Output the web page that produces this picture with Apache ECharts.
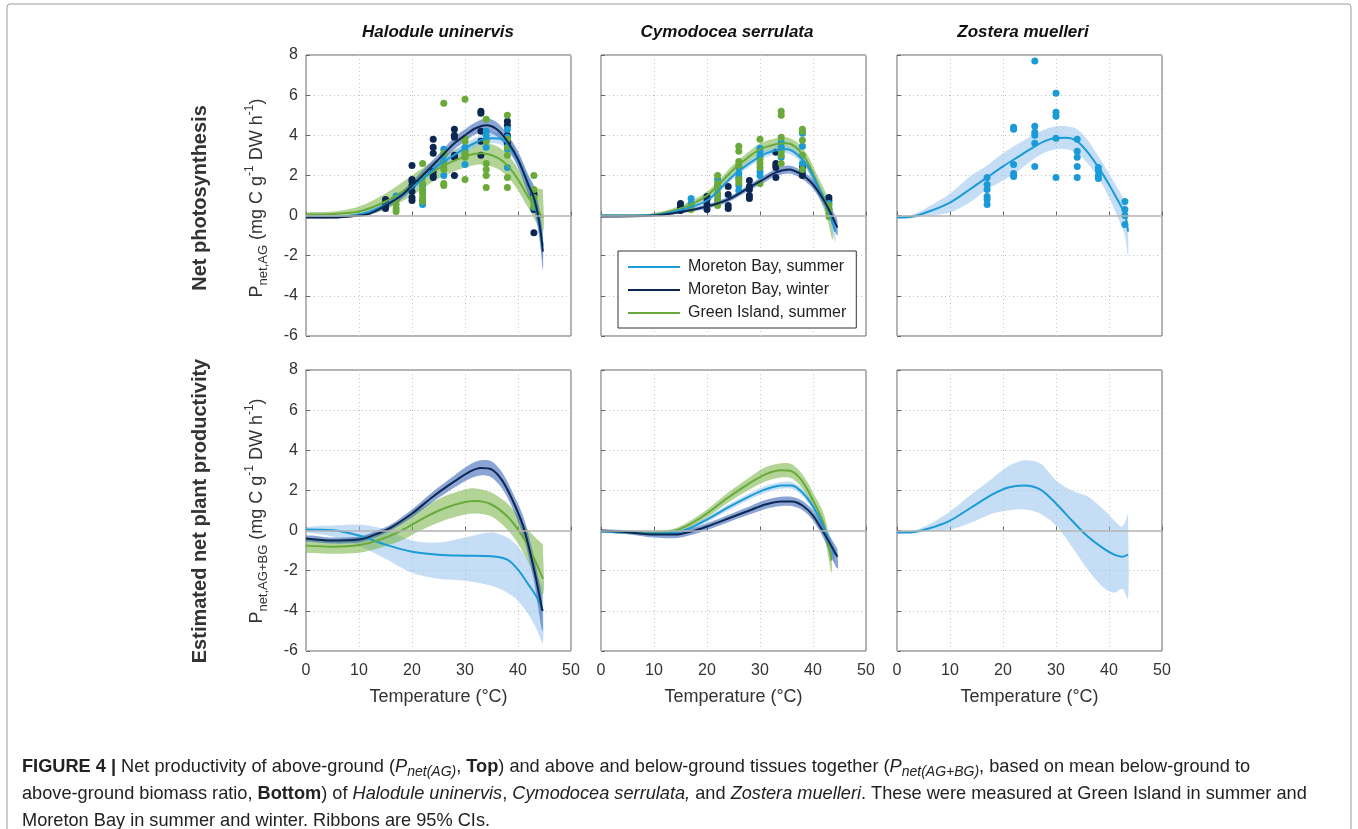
<!DOCTYPE html>
<html>
<head>
<meta charset="utf-8">
<script src="https://cdn.jsdelivr.net/npm/echarts@6/dist/echarts.min.js"></script>
<style>
  html, body { margin: 0; padding: 0; background: #fff; }
  #main { width: 1358px; height: 829px; }
</style>
</head>
<body>
<div id="main"></div>
<script>
// ---- Halodule uninervis, above-ground ----
var hTopT_lb = [0, 5, 10, 15, 20, 25, 30, 33, 35, 37, 39, 41, 43, 44.7];
var hTopLb   = [-0.05, -0.05, 0.05, 0.55, 1.4, 2.5, 3.35, 3.75, 3.85, 3.8, 3.2, 2.2, 0.8, -1.5];
var hTopLbLo = [-0.1, -0.1, -0.02, 0.4, 1.2, 2.3, 3.1, 3.5, 3.6, 3.5, 2.9, 1.9, 0.4, -2.2];
var hTopLbHi = [0.0, 0.0, 0.12, 0.7, 1.6, 2.7, 3.6, 4.0, 4.1, 4.1, 3.5, 2.5, 1.2, -0.8];

var hTopT_nv = [0, 5, 10, 12, 15, 18, 20, 22, 25, 28, 30, 32, 34, 36, 38, 40, 42, 43, 44, 44.7];
var hTopNv   = [-0.1, -0.1, 0.0, 0.1, 0.5, 1.0, 1.5, 2.0, 2.8, 3.6, 4.0, 4.35, 4.5, 4.3, 3.7, 2.8, 1.5, 0.9, -0.3, -1.8];
var hTopNvLo = [-0.15, -0.15, -0.05, 0.03, 0.35, 0.8, 1.3, 1.75, 2.55, 3.3, 3.7, 4.05, 4.15, 3.95, 3.35, 2.4, 1.0, 0.3, -1.0, -2.7];
var hTopNvHi = [-0.05, -0.05, 0.05, 0.17, 0.65, 1.2, 1.7, 2.25, 3.05, 3.9, 4.3, 4.65, 4.85, 4.65, 4.05, 3.2, 2.0, 1.5, 0.4, -0.9];

var hTopT_gr = [0, 5, 10, 15, 20, 25, 30, 33, 36, 38, 40, 42, 44.7];
var hTopGr   = [0.05, 0.08, 0.2, 0.7, 1.5, 2.35, 2.95, 3.1, 2.9, 2.5, 1.8, 0.9, -0.1];
var hTopGrLo = [-0.05, -0.05, -0.05, 0.3, 1.0, 1.85, 2.4, 2.55, 2.35, 1.95, 1.25, 0.35, -0.8];
var hTopGrHi = [0.15, 0.2, 0.45, 1.1, 2.0, 2.85, 3.5, 3.65, 3.45, 3.05, 2.35, 1.5, 1.3];

var hTopPtsNv = [[15,0.8],[15,0.6],[15,0.5],[15,0.35],[20,2.5],[20,1.8],[20,1.7],[20,1.5],[20,1.2],[20,0.9],[20,0.75],
  [24,3.8],[24,3.4],[24,3.1],[24,2.2],[24,2.0],[24,1.9],[28,4.3],[28,4.0],[28,3.9],[28,3.0],[28,2.9],[28,2.0],
  [33,5.2],[33,5.1],[33,4.2],[33,3.7],[33,3.0],[38,4.7],[38,4.5],[38,4.0],[38,3.7],[38,3.6],[43,1.1],[43,1.0],[43,0.3],[43,-0.85]];
var hTopPtsLb = [[17,0.98],[17,0.78],[22,1.5],[22,1.2],[22,0.75],[22,0.55],[26,3.3],[26,3.0],[26,2.7],[26,2.0],
  [30,3.4],[30,3.2],[30,3.0],[30,2.55],[34,4.2],[34,4.0],[34,3.8],[34,3.4],[38,4.3],[38,3.9],[38,3.3],[38,2.4],[43,0.7],[43,0.4]];
var hTopPtsGr = [[17,0.8],[17,0.55],[17,0.35],[17,0.2],[22,2.6],[22,1.9],[22,1.6],[22,1.3],[22,1.1],[22,0.9],[22,0.7],
  [26,5.6],[26,3.1],[26,2.6],[26,2.4],[26,2.3],[26,1.6],[26,1.5],[30,5.8],[30,3.85],[30,3.7],[30,3.1],[30,2.9],[30,1.8],
  [34,4.8],[34,3.7],[34,2.6],[34,2.3],[34,2.0],[34,1.4],[38,5.0],[38,3.8],[38,3.4],[38,3.0],[38,1.9],[38,1.4],
  [43,2.0],[43,1.3],[43,0.9],[43,0.6],[43,0.45]];

// ---- Cymodocea serrulata, above-ground ----
var cTopT_gr = [0, 5, 10, 15, 20, 25, 28, 30, 33, 35, 37, 39, 41, 42.5, 43.7];
var cTopGr   = [0, 0, 0.05, 0.35, 1.0, 2.3, 2.95, 3.3, 3.55, 3.6, 3.35, 2.65, 1.5, 0.6, -0.4];
var cTopGrLo = [-0.05, -0.05, -0.02, 0.25, 0.85, 2.05, 2.7, 3.05, 3.25, 3.3, 3.0, 2.25, 1.0, 0.0, -1.2];
var cTopGrHi = [0.05, 0.05, 0.12, 0.5, 1.2, 2.55, 3.2, 3.6, 3.85, 3.9, 3.65, 3.0, 1.9, 1.1, 0.3];

var cTopT_lb = [0, 10, 15, 20, 25, 30, 33, 35, 37, 39, 41, 43, 44.2];
var cTopLb   = [0, 0.03, 0.28, 0.75, 2.0, 2.95, 3.25, 3.3, 3.05, 2.45, 1.4, 0.2, -0.8];
var cTopLbLo = [-0.03, 0.0, 0.2, 0.62, 1.85, 2.77, 3.05, 3.1, 2.83, 2.2, 1.1, -0.2, -1.3];
var cTopLbHi = [0.03, 0.06, 0.36, 0.88, 2.15, 3.13, 3.45, 3.5, 3.27, 2.7, 1.7, 0.6, -0.3];

var cTopT_nv = [0, 10, 15, 20, 24, 28, 30, 33, 35.5, 37.5, 39.5, 41.5, 43, 44.6];
var cTopNv   = [-0.05, 0, 0.18, 0.45, 0.8, 1.4, 1.7, 2.15, 2.3, 2.1, 1.7, 1.0, 0.3, -0.6];
var cTopNvLo = [-0.08, -0.03, 0.1, 0.35, 0.68, 1.25, 1.53, 1.97, 2.1, 1.9, 1.48, 0.75, 0.0, -1.0];
var cTopNvHi = [-0.02, 0.03, 0.26, 0.55, 0.92, 1.55, 1.87, 2.33, 2.5, 2.3, 1.92, 1.25, 0.6, -0.2];

var cTopPtsNv = [[15,0.6],[15,0.45],[15,0.35],[15,0.25],[20,0.95],[20,0.8],[20,0.55],[20,0.3],[24,1.45],[24,1.05],[24,0.5],[24,0.35],
  [28,1.75],[28,1.45],[28,1.3],[28,1.0],[28,0.85],[33,3.15],[33,2.6],[33,2.5],[33,2.4],[33,1.9],[38,2.4],[38,2.2],[38,2.0],[43,0.9],[43,0.75]];
var cTopPtsLb = [[17,0.85],[17,0.6],[22,1.8],[22,1.5],[22,1.0],[22,0.75],[26,2.4],[26,2.1],[26,1.9],[26,1.5],[26,1.25],
  [30,3.35],[30,3.2],[30,2.95],[30,2.2],[30,2.0],[34,3.65],[34,3.4],[34,2.9],[38,4.1],[38,3.45],[38,2.6],[43,0.6],[43,0.35]];
var cTopPtsGr = [[17,0.45],[17,0.3],[22,2.0],[22,1.6],[22,1.35],[22,1.1],[22,0.8],[22,0.5],[26,3.45],[26,3.2],[26,2.7],[26,2.5],[26,1.8],[26,1.65],
  [30,3.8],[30,2.8],[30,2.6],[30,2.4],[30,1.6],[34,5.2],[34,5.0],[34,3.9],[34,3.2],[34,3.0],[34,2.6],
  [38,4.3],[38,4.2],[38,3.75],[38,3.0],[38,2.3],[43,0.5],[43,0.3],[43,0.1],[43,-0.05]];

// ---- Zostera muelleri, above-ground ----
var zTopT  = [0, 3, 6, 10, 14, 17, 20, 23, 26, 28, 30, 32, 34, 36, 38, 40, 42, 43, 43.6];
var zTop   = [-0.1, -0.05, 0.2, 0.65, 1.35, 1.9, 2.45, 2.95, 3.45, 3.72, 3.86, 3.88, 3.7, 3.15, 2.4, 1.55, 0.6, 0.05, -0.8];
var zTopLo = [-0.15, -0.12, 0.0, 0.15, 0.7, 1.3, 1.75, 2.25, 2.85, 3.15, 3.3, 3.3, 3.1, 2.6, 1.9, 0.9, -0.3, -1.0, -2.0];
var zTopHi = [-0.05, 0.05, 0.45, 1.1, 2.0, 2.5, 3.1, 3.6, 4.05, 4.3, 4.45, 4.45, 4.3, 3.75, 2.95, 2.1, 1.2, 0.7, 0.1];
var zTopPts = [[17,1.9],[17,1.55],[17,1.3],[17,0.95],[17,0.8],[17,0.55],[22,4.4],[22,4.3],[22,2.55],[22,2.1],[22,1.95],
  [26,7.7],[26,4.45],[26,4.15],[26,4.0],[26,3.6],[26,2.45],[30,6.1],[30,5.15],[30,4.95],[30,3.85],[30,1.9],
  [34,3.8],[34,3.2],[34,2.9],[34,2.45],[34,1.9],[38,2.4],[38,2.25],[38,2.0],[38,1.85],[43,0.7],[43,0.3],[43,0.0],[43,-0.45]];

// ---- Halodule uninervis, above + below ground ----
var hBotT_lb = [0, 5, 10, 15, 20, 25, 30, 35, 38, 40, 42, 43.5, 44.7];
var hBotLb   = [0.05, 0.02, -0.25, -0.7, -1.05, -1.2, -1.25, -1.28, -1.45, -1.95, -2.7, -3.3, -4.0];
var hBotLbLo = [-0.1, -0.3, -0.75, -1.4, -2.1, -2.4, -2.5, -2.75, -3.1, -3.5, -4.2, -4.9, -5.6];
var hBotLbHi = [0.15, 0.25, 0.3, 0.05, -0.5, -0.6, -0.35, -0.1, -0.35, -0.8, -1.5, -2.2, -2.8];

var hBotT_nv = [0, 5, 10, 13, 16, 20, 24, 28, 31, 33, 35, 37, 39, 41, 43, 44.6];
var hBotNv   = [-0.4, -0.5, -0.45, -0.2, 0.15, 0.85, 1.7, 2.45, 2.95, 3.12, 3.05, 2.5, 1.5, 0.2, -1.9, -4.0];
var hBotNvLo = [-0.55, -0.65, -0.6, -0.35, 0.0, 0.65, 1.45, 2.15, 2.6, 2.75, 2.65, 2.1, 1.1, -0.3, -2.5, -5.0];
var hBotNvHi = [-0.25, -0.35, -0.3, -0.05, 0.3, 1.05, 1.95, 2.75, 3.3, 3.5, 3.45, 2.9, 1.9, 0.7, -1.3, -3.3];

var hBotT_gr = [0, 5, 10, 14, 18, 22, 26, 30, 32, 35, 38, 40, 42, 44.7];
var hBotGr   = [-0.75, -0.8, -0.72, -0.45, 0.0, 0.6, 1.1, 1.42, 1.47, 1.3, 0.7, 0.05, -0.8, -2.4];
var hBotGrLo = [-1.1, -1.15, -1.1, -0.85, -0.5, 0.05, 0.5, 0.8, 0.85, 0.7, 0.05, -0.65, -1.6, -3.2];
var hBotGrHi = [-0.4, -0.45, -0.35, -0.05, 0.5, 1.15, 1.7, 2.05, 2.1, 1.9, 1.35, 0.75, 0.0, -0.7];

// ---- Cymodocea serrulata, above + below ground ----
var cBotT_gr = [0, 5, 10, 14, 17, 20, 24, 28, 31, 34, 36, 38, 40, 42, 43.5];
var cBotGr   = [-0.05, -0.1, -0.12, 0.0, 0.35, 0.85, 1.65, 2.35, 2.8, 3.0, 2.95, 2.45, 1.5, 0.35, -1.5];
var cBotGrLo = [-0.1, -0.17, -0.22, -0.12, 0.18, 0.65, 1.4, 2.05, 2.45, 2.65, 2.6, 2.1, 1.1, -0.15, -2.1];
var cBotGrHi = [0.0, -0.03, -0.02, 0.12, 0.52, 1.05, 1.9, 2.65, 3.15, 3.35, 3.3, 2.8, 1.9, 0.85, -0.8];

var cBotT_lb = [0, 5, 10, 14, 17, 20, 24, 28, 31, 34, 36, 38, 40, 42, 44];
var cBotLb   = [-0.05, -0.1, -0.15, -0.1, 0.15, 0.55, 1.15, 1.7, 2.05, 2.25, 2.25, 1.9, 1.2, 0.2, -1.2];
var cBotLbLo = [-0.08, -0.15, -0.22, -0.18, 0.05, 0.42, 1.0, 1.55, 1.88, 2.08, 2.08, 1.72, 1.0, -0.05, -1.6];
var cBotLbHi = [-0.02, -0.05, -0.08, -0.02, 0.25, 0.68, 1.3, 1.85, 2.22, 2.42, 2.42, 2.08, 1.4, 0.45, -0.8];

var cBotT_nv = [0, 5, 10, 14, 17, 20, 24, 28, 31, 34, 36, 38, 40, 42, 44.6];
var cBotNv   = [0.0, -0.08, -0.2, -0.2, -0.05, 0.2, 0.6, 1.0, 1.3, 1.45, 1.45, 1.25, 0.75, -0.1, -1.3];
var cBotNvLo = [-0.05, -0.18, -0.35, -0.38, -0.22, 0.03, 0.42, 0.8, 1.08, 1.22, 1.22, 1.02, 0.5, -0.4, -1.9];
var cBotNvHi = [0.05, 0.02, -0.05, -0.02, 0.12, 0.37, 0.78, 1.2, 1.52, 1.68, 1.68, 1.48, 1.0, 0.2, -0.9];

// ---- Zostera muelleri, above + below ground ----
var zBotT  = [0, 3, 6, 10, 14, 18, 21, 24, 27, 30, 33, 36, 39, 41, 42.5, 43.6];
var zBot   = [-0.1, -0.08, 0.1, 0.5, 1.15, 1.8, 2.15, 2.25, 2.05, 1.35, 0.5, -0.3, -0.9, -1.2, -1.3, -1.2];
var zBotLo = [-0.15, -0.12, -0.05, 0.05, 0.4, 0.85, 1.0, 1.05, 0.85, 0.25, -0.8, -1.95, -2.85, -3.1, -2.9, -3.4];
var zBotHi = [-0.05, 0.0, 0.3, 0.95, 1.8, 2.6, 3.2, 3.5, 3.35, 2.5, 2.0, 1.7, 1.05, 0.5, 0.2, 0.85];

var species = ['Halodule uninervis', 'Cymodocea serrulata', 'Zostera muelleri'];
var legendNames = ['Moreton Bay, summer', 'Moreton Bay, winter', 'Green Island, summer'];
var xTicks = [0, 50, 10];   // min, max, interval
var yTicks = [-6, 8, 2];

var FONT = 'Liberation Sans, Arial, Helvetica, sans-serif';
var LB = '#1a9ad6', NV = '#0c2752', GR = '#6aaa3a';
var LB_BAND = 'rgba(150,195,238,0.55)', NV_BAND = 'rgba(60,105,185,0.6)', GR_BAND = 'rgba(115,178,65,0.55)';

var lefts = [306, 601, 897];
var tops = [55, 370];

function pairs(t, v) {
    return t.map(function (x, i) { return [x, v[i]]; });
}

var grids = [], xAxes = [], yAxes = [];
for (var r = 0; r < 2; r++) {
    for (var c = 0; c < 3; c++) {
        var gi = r * 3 + c;
        grids.push({left: lefts[c], top: tops[r], width: 265, height: 281, show: true,
            borderColor: '#666', borderWidth: 1, containLabel: false});
        xAxes.push({
            type: 'value', gridIndex: gi, min: xTicks[0], max: xTicks[1], interval: xTicks[2],
            axisLine: {show: false},
            axisTick: {show: true, inside: true, length: 4, lineStyle: {color: '#666'}},
            axisLabel: {show: r === 1, margin: 12, fontSize: 16, color: '#333', fontFamily: FONT},
            splitLine: {show: true, lineStyle: {color: '#c4c4c4', type: [1, 3], width: 1}},
            name: r === 1 ? 'Temperature (°C)' : '', nameLocation: 'middle', nameGap: 37,
            nameTextStyle: {fontSize: 18, color: '#333', fontFamily: FONT}
        });
        yAxes.push({
            type: 'value', gridIndex: gi, min: yTicks[0], max: yTicks[1], interval: yTicks[2],
            axisLine: {show: false},
            axisTick: {show: true, inside: true, length: 4, lineStyle: {color: '#666'}},
            axisLabel: {show: c === 0, margin: 8, fontSize: 16, color: '#333', fontFamily: FONT},
            splitLine: {show: true, lineStyle: {color: '#c4c4c4', type: [1, 3], width: 1}}
        });
    }
}

var series = [];
var zeroDone = {};

// ribbon: one polygon, upper edge forward then lower edge back, mapped through the grid's axes
function band(gi, color, t, lo, hi) {
    series.push({
        type: 'custom', xAxisIndex: gi, yAxisIndex: gi, silent: true, z: 1, clip: true,
        data: [[t[0], lo[0]]],
        renderItem: function (params, api) {
            var pts = [];
            var n = t.length;
            pts.push(api.coord([t[0], lo[0]]));
            for (var i = 0; i < n; i++) pts.push(api.coord([t[i], hi[i]]));
            pts.push(api.coord([t[n - 1], hi[n - 1]]));
            for (var j = n - 1; j >= 0; j--) pts.push(api.coord([t[j], lo[j]]));
            pts.push(api.coord([t[0], lo[0]]));
            return {type: 'polygon', shape: {points: pts, smooth: 0.3}, style: {fill: color}};
        }
    });
}

function curve(gi, name, color, t, mid) {
    var s = {
        type: 'line', name: name, xAxisIndex: gi, yAxisIndex: gi,
        data: pairs(t, mid), smooth: 0.3, symbol: 'none', silent: true, z: 3,
        lineStyle: {color: color, width: 2}, itemStyle: {color: color}
    };
    if (!zeroDone[gi]) {
        zeroDone[gi] = true;
        s.markLine = {
            silent: true, symbol: ['none', 'none'], label: {show: false},
            lineStyle: {color: '#b4b4b4', width: 1.5, type: 'solid'},
            data: [{yAxis: 0}]
        };
    }
    series.push(s);
}

function points(gi, color, data) {
    series.push({
        type: 'scatter', name: '_pts', xAxisIndex: gi, yAxisIndex: gi, data: data,
        symbolSize: 7, silent: true, z: 2, itemStyle: {color: color, opacity: 1}
    });
}

// top-left
band(0, GR_BAND, hTopT_gr, hTopGrLo, hTopGrHi);
band(0, LB_BAND, hTopT_lb, hTopLbLo, hTopLbHi);
band(0, NV_BAND, hTopT_nv, hTopNvLo, hTopNvHi);
points(0, NV, hTopPtsNv);
points(0, LB, hTopPtsLb);
points(0, GR, hTopPtsGr);
curve(0, legendNames[2], GR, hTopT_gr, hTopGr);
curve(0, legendNames[0], LB, hTopT_lb, hTopLb);
curve(0, legendNames[1], NV, hTopT_nv, hTopNv);

// top-middle
band(1, GR_BAND, cTopT_gr, cTopGrLo, cTopGrHi);
band(1, LB_BAND, cTopT_lb, cTopLbLo, cTopLbHi);
band(1, NV_BAND, cTopT_nv, cTopNvLo, cTopNvHi);
points(1, NV, cTopPtsNv);
points(1, LB, cTopPtsLb);
points(1, GR, cTopPtsGr);
curve(1, legendNames[2], GR, cTopT_gr, cTopGr);
curve(1, legendNames[0], LB, cTopT_lb, cTopLb);
curve(1, legendNames[1], NV, cTopT_nv, cTopNv);

// top-right
band(2, LB_BAND, zTopT, zTopLo, zTopHi);
points(2, LB, zTopPts);
curve(2, legendNames[0], LB, zTopT, zTop);

// bottom-left
band(3, LB_BAND, hBotT_lb, hBotLbLo, hBotLbHi);
band(3, GR_BAND, hBotT_gr, hBotGrLo, hBotGrHi);
band(3, NV_BAND, hBotT_nv, hBotNvLo, hBotNvHi);
curve(3, legendNames[0], LB, hBotT_lb, hBotLb);
curve(3, legendNames[2], GR, hBotT_gr, hBotGr);
curve(3, legendNames[1], NV, hBotT_nv, hBotNv);

// bottom-middle
band(4, GR_BAND, cBotT_gr, cBotGrLo, cBotGrHi);
band(4, LB_BAND, cBotT_lb, cBotLbLo, cBotLbHi);
band(4, NV_BAND, cBotT_nv, cBotNvLo, cBotNvHi);
curve(4, legendNames[2], GR, cBotT_gr, cBotGr);
curve(4, legendNames[0], LB, cBotT_lb, cBotLb);
curve(4, legendNames[1], NV, cBotT_nv, cBotNv);

// bottom-right
band(5, LB_BAND, zBotT, zBotLo, zBotHi);
curve(5, legendNames[0], LB, zBotT, zBot);

var yNameRich = {
    a: {fontSize: 18, lineHeight: 26, verticalAlign: 'middle', fontFamily: FONT, fill: '#333'},
    s: {fontSize: 13, lineHeight: 13, verticalAlign: 'bottom', fontFamily: FONT, fill: '#333'},
    p: {fontSize: 12, lineHeight: 12, verticalAlign: 'top', fontFamily: FONT, fill: '#333'}
};
var CAP = 18.2;
var capRich = {
    n: {fontSize: CAP, lineHeight: 24, verticalAlign: 'middle', fontFamily: FONT, fill: '#222'},
    b: {fontSize: CAP, lineHeight: 24, verticalAlign: 'middle', fontWeight: 'bold', fontFamily: FONT, fill: '#222'},
    i: {fontSize: CAP, lineHeight: 24, verticalAlign: 'middle', fontStyle: 'italic', fontFamily: FONT, fill: '#222'},
    si: {fontSize: 14, lineHeight: 14, verticalAlign: 'bottom', fontStyle: 'italic', fontFamily: FONT, fill: '#222'}
};
var captionLines = [
    '{b|FIGURE 4 |}{n| Net productivity of above-ground (}{i|P}{si|net(AG)}{n|, }{b|Top}{n|) and above and below-ground tissues together (}{i|P}{si|net(AG+BG)}{n|, based on mean below-ground to}',
    '{n|above-ground biomass ratio, }{b|Bottom}{n|) of }{i|Halodule uninervis}{n|, }{i|Cymodocea serrulata,}{n| and }{i|Zostera muelleri}{n|. These were measured at Green Island in summer and}',
    '{n|Moreton Bay in summer and winter. Ribbons are 95% CIs.}'
];
var titleX = [438, 727, 1023];

var graphics = [
    {type: 'rect', shape: {x: 7, y: 4, width: 1344, height: 900, r: 3}, silent: true,
        style: {fill: 'none', stroke: '#9a9a9a', lineWidth: 1}}
];
species.forEach(function (s, i) {
    graphics.push({type: 'text', x: titleX[i], y: 32, silent: true,
        style: {text: s, fill: '#111', font: 'italic bold 17px ' + FONT, align: 'center', verticalAlign: 'middle'}});
});
graphics.push({type: 'text', x: 200, y: 198, rotation: Math.PI / 2, silent: true,
    style: {text: 'Net photosynthesis', fill: '#333', font: 'bold 20px ' + FONT, align: 'center', verticalAlign: 'middle'}});
graphics.push({type: 'text', x: 200, y: 511, rotation: Math.PI / 2, silent: true,
    style: {text: 'Estimated net plant productivity', fill: '#333', font: 'bold 20px ' + FONT, align: 'center', verticalAlign: 'middle'}});
graphics.push({type: 'text', x: 257, y: 198, rotation: Math.PI / 2, silent: true,
    style: {text: '{a|P}{s|net,AG}{a| (mg C g}{p|-1}{a| DW h}{p|-1}{a|)}', rich: yNameRich, align: 'center', verticalAlign: 'middle'}});
graphics.push({type: 'text', x: 257, y: 511, rotation: Math.PI / 2, silent: true,
    style: {text: '{a|P}{s|net,AG+BG}{a| (mg C g}{p|-1}{a| DW h}{p|-1}{a|)}', rich: yNameRich, align: 'center', verticalAlign: 'middle'}});
captionLines.forEach(function (t, i) {
    graphics.push({type: 'text', x: 22, y: 767 + i * 27, silent: true,
        style: {text: t, rich: capRich, align: 'left', verticalAlign: 'middle'}});
});

var myChart = echarts.init(document.getElementById('main'));
myChart.setOption({
    animation: false,
    backgroundColor: '#fff',
    textStyle: {fontFamily: FONT},
    grid: grids,
    xAxis: xAxes,
    yAxis: yAxes,
    legend: {
        data: legendNames, orient: 'vertical', left: 618, top: 251, z: 10,
        icon: 'rect', itemWidth: 52, itemHeight: 2, itemGap: 7,
        padding: [8, 10, 7, 10], borderColor: '#333', borderWidth: 1, backgroundColor: '#fff',
        selectedMode: false,
        textStyle: {fontSize: 16, color: '#222', fontFamily: FONT, padding: [0, 0, 0, 3]}
    },
    graphic: graphics,
    series: series
});
</script>
</body>
</html>
